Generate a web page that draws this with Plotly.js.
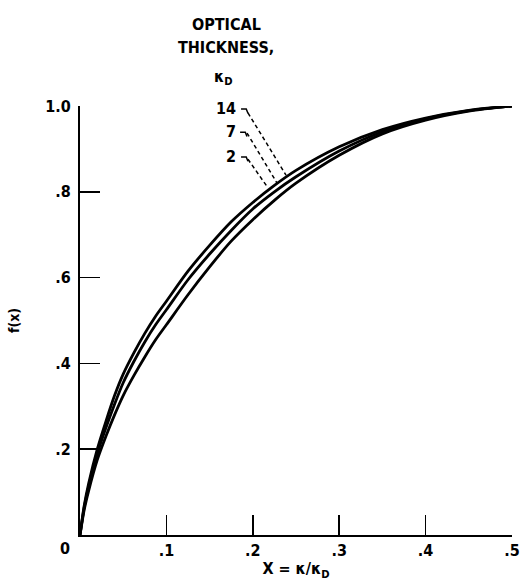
<!DOCTYPE html>
<html>
<head>
<meta charset="utf-8">
<script src="https://cdn.plot.ly/plotly-3.0.1.min.js"></script>
<style>html,body{margin:0;padding:0;background:#fff;}#chart{width:523px;height:584px;}</style>
</head>
<body>
<div id="chart"></div>
<script>
// Data
var xValues = [0, 0.005, 0.01, 0.02, 0.03, 0.04, 0.05, 0.0625, 0.075, 0.0875, 0.1, 0.125, 0.15, 0.175, 0.2, 0.225, 0.25, 0.3, 0.35, 0.4, 0.45, 0.5];
var fKappa14 = [0, 0.07, 0.12, 0.20, 0.265, 0.325, 0.375, 0.425, 0.47, 0.51, 0.545, 0.615, 0.675, 0.73, 0.775, 0.815, 0.85, 0.905, 0.945, 0.972, 0.99, 1.0];
var fKappa7  = [0, 0.066, 0.113, 0.19, 0.25, 0.305, 0.355, 0.405, 0.45, 0.49, 0.525, 0.595, 0.655, 0.71, 0.76, 0.80, 0.835, 0.895, 0.94, 0.97, 0.989, 1.0];
var fKappa2  = [0, 0.06, 0.103, 0.175, 0.23, 0.28, 0.325, 0.372, 0.415, 0.455, 0.49, 0.56, 0.625, 0.685, 0.735, 0.78, 0.82, 0.885, 0.935, 0.967, 0.988, 1.0];
var seriesNames = ["14", "7", "2"];
var xTickVals = [0.1, 0.2, 0.3, 0.4, 0.5];
var xTickText = [".1", ".2", ".3", ".4", ".5"];
var yTickVals = [0.2, 0.4, 0.6, 0.8, 1.0];
var yTickText = [".2", ".4", ".6", ".8", "1.0"];
// leader lines: label hook end -> point on curve (data coords)
var leaderStart = [[0.1944, 0.984], [0.1933, 0.937], [0.1944, 0.876]];
var leaderEnd   = [[0.2384, 0.839], [0.2280, 0.8205], [0.2176, 0.809]];
var labelY      = [0.995, 0.941, 0.883];

var FONT = "DejaVu Sans Condensed, DejaVu Sans, sans-serif";
var ys = [fKappa14, fKappa7, fKappa2];
var traces = ys.map(function (y, i) {
  return {
    x: xValues, y: y, type: "scatter", mode: "lines", name: seriesNames[i],
    line: {color: "#000", width: 2.8, shape: "spline", smoothing: 0.8},
    cliponaxis: false, hoverinfo: "skip"
  };
});

function txt(size) { return {family: FONT, size: size, color: "#000", weight: "bold"}; }

var shapes = [];
var annotations = [];
for (var i = 0; i < 3; i++) {
  shapes.push({type: "path", xref: "x", yref: "y",
    path: "M " + (leaderStart[i][0] - 0.008) + "," + (labelY[i] - 0.002) +
          " L " + (leaderStart[i][0] - 0.002) + "," + (labelY[i] - 0.002) +
          " L " + leaderStart[i][0] + "," + (labelY[i] - 0.012),
    line: {color: "#000", width: 1.5}});
  shapes.push({type: "line", xref: "x", yref: "y",
    x0: leaderStart[i][0], y0: leaderStart[i][1], x1: leaderEnd[i][0], y1: leaderEnd[i][1],
    line: {color: "#000", width: 1.5, dash: "4px,3px"}});
  annotations.push({xref: "x", yref: "y", x: 0.1829, y: labelY[i], text: seriesNames[i],
    showarrow: false, xanchor: "right", yanchor: "middle", font: txt(16)});
}
annotations.push({xref: "x", yref: "paper", x: 0.169, y: 1.189, text: "OPTICAL", showarrow: false,
  xanchor: "center", yanchor: "middle", font: txt(16)});
annotations.push({xref: "x", yref: "paper", x: 0.169, y: 1.1375, text: "THICKNESS,", showarrow: false,
  xanchor: "center", yanchor: "middle", font: txt(16)});
annotations.push({xref: "x", yref: "paper", x: 0.166, y: 1.066, text: "κ<sub>D</sub>", showarrow: false,
  xanchor: "center", yanchor: "middle", font: txt(16)});
annotations.push({xref: "x", yref: "y", x: 0, y: 0, xshift: -15, yshift: -13, text: "0", showarrow: false,
  font: txt(16)});

var axisCommon = {
  showgrid: false, zeroline: false, showline: true, linecolor: "#000", linewidth: 2,
  ticks: "inside", ticklen: 20, tickwidth: 1.6, tickcolor: "#000",
  tickfont: txt(16), fixedrange: true
};
var layout = {
  width: 523, height: 584,
  margin: {l: 80, r: 11, t: 106, b: 49},
  paper_bgcolor: "#fff", plot_bgcolor: "#fff",
  showlegend: false,
  xaxis: Object.assign({}, axisCommon, {
    range: [0, 0.5], tickmode: "array", tickvals: xTickVals, ticktext: xTickText,
    title: {text: "X = κ/κ<sub>D</sub>", font: txt(16), standoff: 4}
  }),
  yaxis: Object.assign({}, axisCommon, {
    range: [0, 1.0], tickmode: "array", tickvals: yTickVals, ticktext: yTickText,
    ticklabelstandoff: 4,
    title: {text: "f(x)", font: txt(14), standoff: 22}
  }),
  shapes: shapes,
  annotations: annotations
};
Plotly.newPlot("chart", traces, layout, {staticPlot: true, displayModeBar: false});
</script>
</body>
</html>
